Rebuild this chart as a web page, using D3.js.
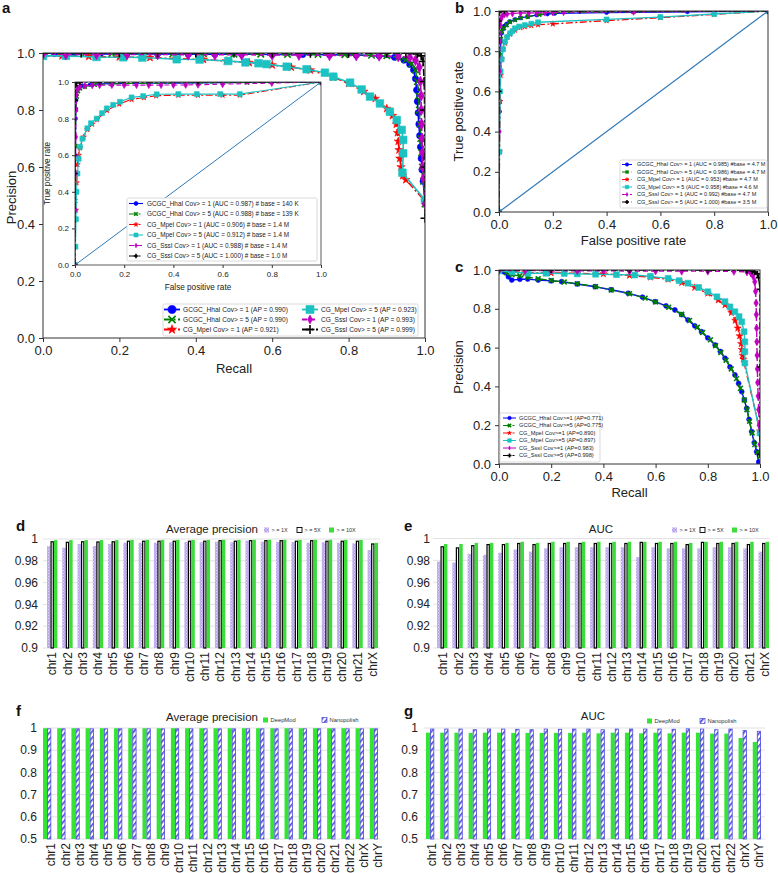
<!DOCTYPE html>
<html><head><meta charset="utf-8">
<script src="https://cdn.jsdelivr.net/npm/d3@7"></script>
<style>body{margin:0;background:#fff;} text{font-family:"Liberation Sans",Arial,Helvetica,sans-serif;}</style>
</head><body><svg id="c" width="778" height="873"></svg>
<script>
// ---------------- DATA ----------------
const seriesKeys = ['GCGC_HhaI Cov> = 1','GCGC_HhaI Cov> = 5','CG_MpeI Cov> = 1','CG_MpeI Cov> = 5','CG_SssI Cov> = 1','CG_SssI Cov> = 5'];
const axisTicks = [0,0.2,0.4,0.6,0.8,1.0];

// panel a main: precision-recall [recall, precision]
const aPR_Hha1 = [[0,1],[0.03,0.998],[0.08,0.998],[0.15,0.997],[0.22,0.997],[0.3,0.997],[0.38,0.996],[0.45,0.996],[0.52,0.996],[0.6,0.995],[0.68,0.995],[0.75,0.994],[0.82,0.993],[0.88,0.99],[0.92,0.985],[0.945,0.975],[0.96,0.96],[0.97,0.94],[0.975,0.91],[0.978,0.87],[0.98,0.83],[0.982,0.79],[0.984,0.75],[0.986,0.71],[0.988,0.67],[0.99,0.63],[0.992,0.59],[0.995,0.55],[1.0,0.48]];
const aPR_Hha5 = [[0,1],[0.05,0.999],[0.11,0.998],[0.18,0.998],[0.26,0.997],[0.34,0.997],[0.42,0.997],[0.5,0.996],[0.57,0.996],[0.64,0.995],[0.72,0.995],[0.79,0.994],[0.86,0.992],[0.9,0.99],[0.93,0.985],[0.95,0.976],[0.965,0.962],[0.975,0.94],[0.98,0.9],[0.983,0.85],[0.985,0.8],[0.987,0.75],[0.989,0.7],[0.991,0.65],[0.993,0.6],[0.996,0.55],[1.0,0.47]];
const aPR_Mpe1 = [[0,0.99],[0.05,0.99],[0.12,0.988],[0.2,0.986],[0.28,0.984],[0.35,0.98],[0.42,0.977],[0.48,0.972],[0.54,0.966],[0.6,0.958],[0.65,0.95],[0.7,0.94],[0.76,0.915],[0.8,0.893],[0.84,0.865],[0.87,0.84],[0.9,0.805],[0.915,0.78],[0.925,0.75],[0.928,0.72],[0.93,0.69],[0.932,0.66],[0.934,0.63],[0.937,0.6],[0.942,0.57],[0.95,0.555],[1.0,0.48]];
const aPR_Mpe5 = [[0,0.99],[0.06,0.99],[0.14,0.986],[0.21,0.985],[0.26,0.984],[0.35,0.978],[0.41,0.977],[0.485,0.972],[0.53,0.967],[0.564,0.964],[0.585,0.961],[0.638,0.952],[0.69,0.943],[0.738,0.931],[0.76,0.917],[0.804,0.896],[0.834,0.872],[0.856,0.847],[0.882,0.823],[0.908,0.794],[0.926,0.765],[0.939,0.73],[0.943,0.695],[0.943,0.648],[0.941,0.58],[1.0,0.484]];
const aPR_Sss1 = [[0,0.997],[0.06,0.995],[0.14,0.996],[0.22,0.995],[0.3,0.995],[0.38,0.994],[0.45,0.994],[0.52,0.994],[0.6,0.993],[0.67,0.993],[0.75,0.992],[0.82,0.991],[0.88,0.99],[0.93,0.988],[0.96,0.985],[0.975,0.975],[0.985,0.95],[0.988,0.9],[0.99,0.85],[0.99,0.8],[0.991,0.75],[0.992,0.7],[0.993,0.65],[0.994,0.6],[0.996,0.56],[1.0,0.47]];
const aPR_Sss5 = [[0,1],[0.1,1],[0.2,1],[0.3,1],[0.4,1],[0.5,1],[0.6,1],[0.7,0.999],[0.8,0.999],[0.9,0.999],[0.95,0.999],[0.98,0.997],[0.99,0.99],[0.995,0.97],[0.998,0.9],[0.999,0.8],[1.0,0.6],[1.0,0.42]];

// panel a inset: ROC [fpr, tpr]
const aROC_Hha1 = [[0,0],[0.001,0.3],[0.002,0.6],[0.003,0.8],[0.005,0.9],[0.008,0.95],[0.015,0.97],[0.03,0.98],[0.06,0.985],[0.1,0.99],[0.2,0.992],[0.3,0.993],[0.4,0.994],[0.5,0.995],[0.6,0.996],[0.8,0.998],[1,1]];
const aROC_Hha5 = [[0,0],[0.001,0.35],[0.002,0.65],[0.004,0.85],[0.007,0.92],[0.012,0.95],[0.02,0.965],[0.04,0.975],[0.08,0.985],[0.15,0.99],[0.3,0.993],[0.5,0.995],[0.7,0.997],[1,1]];
const aROC_Mpe1 = [[0,0],[0.003,0.3],[0.006,0.45],[0.01,0.55],[0.015,0.6],[0.02,0.64],[0.035,0.7],[0.05,0.74],[0.07,0.77],[0.09,0.795],[0.13,0.845],[0.18,0.88],[0.23,0.905],[0.28,0.915],[0.33,0.925],[0.42,0.928],[0.5,0.928],[0.6,0.928],[0.67,0.928],[1,1]];
const aROC_Mpe5 = [[0,0],[0.002,0.1],[0.004,0.25],[0.006,0.4],[0.01,0.5],[0.015,0.58],[0.02,0.646],[0.03,0.69],[0.05,0.747],[0.065,0.775],[0.088,0.8],[0.11,0.83],[0.129,0.856],[0.155,0.875],[0.183,0.892],[0.23,0.916],[0.277,0.923],[0.332,0.933],[0.42,0.934],[0.495,0.934],[0.59,0.934],[0.67,0.934],[1,1]];
const aROC_Sss1 = [[0,0],[0.001,0.3],[0.002,0.5],[0.003,0.7],[0.004,0.85],[0.006,0.93],[0.01,0.96],[0.02,0.975],[0.04,0.98],[0.07,0.982],[0.1,0.982],[0.15,0.983],[0.2,0.983],[0.25,0.983],[0.3,0.983],[0.35,0.983],[0.4,0.984],[0.45,0.984],[0.5,0.985],[0.6,0.988],[0.8,0.994],[1,1]];
const aROC_Sss5 = [[0,0],[0.0005,0.5],[0.001,0.9],[0.002,0.98],[0.005,0.995],[0.02,0.998],[0.1,0.999],[0.5,1],[1,1]];

// panel b: ROC
const bROC_Hha1 = [[0,0],[0.002,0.5],[0.004,0.75],[0.007,0.85],[0.01,0.89],[0.015,0.91],[0.02,0.925],[0.028,0.935],[0.04,0.948],[0.06,0.958],[0.08,0.966],[0.107,0.972],[0.14,0.98],[0.18,0.985],[0.207,0.988],[0.4,0.992],[0.7,0.996],[1,1]];
const bROC_Hha5 = [[0,0],[0.002,0.55],[0.004,0.78],[0.007,0.86],[0.01,0.897],[0.018,0.915],[0.028,0.93],[0.04,0.945],[0.059,0.955],[0.08,0.965],[0.107,0.972],[0.15,0.982],[0.207,0.993],[0.5,0.996],[1,1]];
const bROC_Mpe1 = [[0,0],[0.002,0.3],[0.004,0.55],[0.006,0.68],[0.01,0.76],[0.015,0.81],[0.022,0.84],[0.03,0.87],[0.041,0.885],[0.059,0.905],[0.08,0.918],[0.096,0.922],[0.12,0.928],[0.145,0.932],[0.2,0.936],[0.4,0.952],[0.6,0.967],[0.8,0.983],[1,1]];
const bROC_Mpe5 = [[0,0],[0.002,0.3],[0.004,0.6],[0.006,0.7],[0.01,0.76],[0.015,0.81],[0.022,0.847],[0.03,0.87],[0.041,0.889],[0.05,0.9],[0.059,0.914],[0.075,0.923],[0.096,0.93],[0.12,0.937],[0.145,0.944],[0.4,0.958],[0.6,0.97],[0.8,0.985],[1,1]];
const bROC_Sss1 = [[0,0],[0.001,0.4],[0.002,0.7],[0.003,0.85],[0.005,0.93],[0.008,0.96],[0.012,0.975],[0.02,0.982],[0.03,0.985],[0.05,0.988],[0.08,0.99],[0.11,0.99],[0.14,0.991],[0.17,0.992],[0.2,0.993],[0.24,0.994],[0.5,0.996],[1,1]];
const bROC_Sss5 = [[0,0],[0.0005,0.6],[0.001,0.95],[0.002,0.995],[0.02,0.999],[0.3,1],[1,1]];

// panel c: precision-recall
const cPR_Hha1 = [[0,1],[0.02,0.99],[0.036,0.965],[0.049,0.948],[0.08,0.952],[0.11,0.953],[0.15,0.948],[0.2,0.944],[0.24,0.94],[0.3,0.928],[0.368,0.914],[0.43,0.898],[0.495,0.88],[0.55,0.86],[0.598,0.837],[0.64,0.815],[0.674,0.794],[0.7,0.77],[0.724,0.742],[0.75,0.712],[0.776,0.682],[0.8,0.65],[0.828,0.613],[0.848,0.58],[0.866,0.545],[0.885,0.5],[0.904,0.459],[0.918,0.415],[0.93,0.373],[0.94,0.33],[0.949,0.287],[0.958,0.23],[0.968,0.167],[0.978,0.11],[0.987,0.063],[0.995,0.01]];
const cPR_Hha5 = [[0,1],[0.03,0.985],[0.05,0.975],[0.08,0.97],[0.11,0.962],[0.15,0.955],[0.2,0.946],[0.25,0.938],[0.3,0.929],[0.37,0.914],[0.43,0.897],[0.5,0.878],[0.56,0.855],[0.6,0.835],[0.65,0.808],[0.7,0.772],[0.73,0.74],[0.76,0.705],[0.78,0.678],[0.81,0.64],[0.83,0.61],[0.85,0.575],[0.87,0.535],[0.89,0.49],[0.91,0.44],[0.925,0.39],[0.94,0.33],[0.95,0.28],[0.96,0.22],[0.97,0.16],[0.98,0.1],[0.99,0.06],[1.0,0.04]];
const cPR_Mpe1 = [[0,1],[0.1,0.985],[0.2,0.985],[0.3,0.983],[0.4,0.98],[0.5,0.972],[0.58,0.963],[0.648,0.952],[0.7,0.935],[0.75,0.91],[0.8,0.88],[0.84,0.845],[0.866,0.82],[0.89,0.78],[0.905,0.74],[0.915,0.7],[0.922,0.66],[0.928,0.62],[0.93,0.59],[0.933,0.56],[0.936,0.54],[1.0,0.17]];
const cPR_Mpe5 = [[0,0.995],[0.05,0.99],[0.11,0.983],[0.18,0.983],[0.25,0.982],[0.3,0.98],[0.37,0.978],[0.45,0.976],[0.52,0.974],[0.58,0.967],[0.648,0.957],[0.69,0.945],[0.724,0.932],[0.765,0.91],[0.8,0.888],[0.835,0.862],[0.866,0.837],[0.885,0.81],[0.904,0.785],[0.92,0.76],[0.93,0.733],[0.939,0.682],[0.942,0.63],[0.942,0.579],[0.942,0.52],[1.0,0.16]];
const cPR_Sss1 = [[0,0.998],[0.1,0.997],[0.2,0.997],[0.3,0.996],[0.4,0.996],[0.5,0.995],[0.6,0.995],[0.7,0.994],[0.8,0.994],[0.9,0.993],[0.95,0.99],[0.965,0.985],[0.973,0.97],[0.98,0.94],[0.983,0.89],[0.985,0.83],[0.986,0.77],[0.987,0.7],[0.988,0.63],[0.989,0.56],[0.99,0.49],[0.991,0.42],[0.993,0.35],[0.995,0.28],[0.997,0.2],[1.0,0.1]];
const cPR_Sss5 = [[0,1],[0.2,1],[0.5,1],[0.8,0.999],[0.95,0.998],[0.97,0.995],[0.98,0.99],[0.99,0.98],[0.995,0.96],[1.0,0.9],[1.0,0.5],[1.0,0.05]];

// legend texts
const aLegendPR = ['GCGC_HhaI Cov> = 1 (AP = 0.990)','GCGC_HhaI Cov> = 5 (AP = 0.990)','CG_MpeI Cov> = 1 (AP = 0.921)','CG_MpeI Cov> = 5 (AP = 0.923)','CG_SssI Cov> = 1 (AP = 0.993)','CG_SssI Cov> = 5 (AP = 0.999)'];
const aLegendROC = ['GCGC_HhaI Cov> = 1 (AUC = 0.987) # base = 140 K','GCGC_HhaI Cov> = 5 (AUC = 0.988) # base = 139 K','CG_MpeI Cov> = 1 (AUC = 0.906) # base = 1.4 M','CG_MpeI Cov> = 5 (AUC = 0.912) # base = 1.4 M','CG_SssI Cov> = 1 (AUC = 0.988) # base = 1.4 M','CG_SssI Cov> = 5 (AUC = 1.000) # base = 1.0 M'];
const bLegend = ['GCGC_HhaI Cov> = 1 (AUC = 0.985) #base = 4.7 M','GCGC_HhaI Cov> = 5 (AUC = 0.986) #base = 4.7 M','CG_MpeI Cov> = 1 (AUC = 0.953) #base = 4.7 M','CG_MpeI Cov> = 5 (AUC = 0.958) #base = 4.6 M','CG_SssI Cov> = 1 (AUC = 0.992) #base = 4.7 M','CG_SssI Cov> = 5 (AUC = 1.000) #base = 3.5 M'];
const cLegend = ['GCGC_HhaI Cov>=1 (AP=0.771)','GCGC_HhaI Cov>=5 (AP=0.775)','CG_MpeI Cov>=1 (AP=0.890)','CG_MpeI Cov>=5 (AP=0.897)','CG_SssI Cov>=1 (AP=0.983)','CG_SssI Cov>=5 (AP=0.998)'];

// bar panels
const chrD = ['chr1','chr2','chr3','chr4','chr5','chr6','chr7','chr8','chr9','chr10','chr11','chr12','chr13','chr14','chr15','chr16','chr17','chr18','chr19','chr20','chr21','chrX'];
const apCov1  = [0.9935,0.992,0.9954,0.9935,0.9954,0.9966,0.9966,0.9966,0.997,0.9972,0.997,0.9975,0.997,0.9985,0.9975,0.9972,0.9972,0.9966,0.997,0.9966,0.996,0.9898];
const apCov5  = [0.998,0.9975,0.998,0.9978,0.998,0.9985,0.9985,0.9985,0.9985,0.9985,0.9985,0.999,0.9985,0.999,0.999,0.999,0.9985,0.999,0.9985,0.9985,0.9985,0.996];
const apCov10 = [0.999,0.999,0.999,0.999,0.999,0.9992,0.9992,0.9992,0.9992,0.9992,0.9992,0.9993,0.9992,0.9993,0.9993,0.9993,0.9992,0.9993,0.9993,0.9992,0.9992,0.9965];
const aucCov1  = [0.979,0.978,0.986,0.985,0.987,0.99,0.988,0.991,0.992,0.992,0.992,0.992,0.992,0.983,0.992,0.991,0.991,0.991,0.992,0.992,0.991,0.988];
const aucCov5  = [0.993,0.992,0.994,0.995,0.995,0.996,0.995,0.996,0.996,0.996,0.996,0.996,0.996,0.997,0.996,0.996,0.995,0.997,0.996,0.996,0.995,0.996];
const aucCov10 = [0.995,0.995,0.996,0.996,0.996,0.997,0.996,0.997,0.997,0.997,0.997,0.997,0.997,0.997,0.997,0.997,0.996,0.997,0.997,0.997,0.997,0.997];
const chrF = ['chr1','chr2','chr3','chr4','chr5','chr6','chr7','chr8','chr9','chr10','chr11','chr12','chr13','chr14','chr15','chr16','chr17','chr18','chr19','chr20','chr21','chr22','chrX','chrY'];
const apDeepMod    = [0.999,0.999,0.999,0.999,0.999,0.999,0.999,0.999,0.999,0.999,0.999,0.999,0.999,0.999,0.999,0.999,0.999,0.999,0.999,0.999,0.999,0.999,0.999,0.999];
const apNanopolish = [0.998,0.998,0.998,0.998,0.998,0.998,0.998,0.998,0.998,0.998,0.998,0.998,0.998,0.998,0.998,0.998,0.998,0.998,0.998,0.998,0.998,0.998,0.998,0.998];
const aucDeepMod    = [0.979,0.979,0.979,0.978,0.979,0.979,0.978,0.978,0.978,0.978,0.978,0.979,0.976,0.979,0.979,0.976,0.979,0.976,0.979,0.979,0.975,0.975,0.955,0.937];
const aucNanopolish = [0.997,0.997,0.997,0.994,0.997,0.997,0.996,0.994,0.997,0.996,0.997,0.997,0.994,0.997,0.997,0.997,0.997,0.996,0.998,0.997,0.994,0.997,0.99,0.987];
const ticksDE = [0.9,0.92,0.94,0.96,0.98,1];
const tickLabelsDE = ['0.9','0.92','0.94','0.96','0.98','1'];
const ticksFG = [0.5,0.6,0.7,0.8,0.9,1];
const tickLabelsFG = ['0.5','0.6','0.7','0.8','0.9','1'];
const covLegend = ['> = 1X','> = 5X','> = 10X'];
const toolLegend = ['DeepMod','Nanopolish'];

// ---------------- STYLE ----------------
const sColors = ['#0000ff','#007f00','#ff0000','#1cc2c2','#c000c0','#000000'];
const sMarkers = ['o','x','*','s','d','+'];
const sDash = [null,'7,2.5,2,2.5','7,2.5,2,2.5',null,'5,3','7,2.5,2,2.5'];

const svg = d3.select('#c');
const defs = svg.append('defs');
const p1 = defs.append('pattern').attr('id','hatchPurple').attr('patternUnits','userSpaceOnUse').attr('width',3).attr('height',3);
p1.append('rect').attr('width',3).attr('height',3).attr('fill','#b9a6ec');
p1.append('rect').attr('width',1).attr('height',1).attr('fill','#e2d9fa');
p1.append('rect').attr('x',1.5).attr('y',1.5).attr('width',1).attr('height',1).attr('fill','#e2d9fa');
const p2 = defs.append('pattern').attr('id','hatchBlue').attr('patternUnits','userSpaceOnUse').attr('width',4).attr('height',4).attr('patternTransform','rotate(40)');
p2.append('rect').attr('width',4).attr('height',4).attr('fill','#ffffff');
p2.append('rect').attr('width',1.6).attr('height',4).attr('fill','#4a46dc');

function symPath(t, s){
  const h = s/2;
  switch(t){
    case 'o': return d3.symbol(d3.symbolCircle, Math.PI*h*h*0.8)();
    case 's': return d3.symbol(d3.symbolSquare, s*s*0.8)();
    case '*': return d3.symbol(d3.symbolStar, s*s*0.5)();
    case 'd': return `M0,${-h}L${h*0.55},0L0,${h}L${-h*0.55},0Z`;
    case 'x': return `M${-h*0.8},${-h*0.8}L${h*0.8},${h*0.8}M${-h*0.8},${h*0.8}L${h*0.8},${-h*0.8}`;
    case '+': return `M${-h},0L${h},0M0,${-h}L0,${h}`;
  }
}
function drawMarker(g, t, x, y, s, color){
  const stroked = (t==='x'||t==='+');
  g.append('path').attr('d', symPath(t,s)).attr('transform',`translate(${x},${y})`)
    .attr('fill', stroked?'none':color).attr('stroke', color).attr('stroke-width', stroked?1.6:0.6);
}

let clipId = 0;
function linePanel(o){
  const x = d3.scaleLinear().domain([0,1]).range([o.x0,o.x1]);
  const y = d3.scaleLinear().domain([0,1]).range([o.yb,o.yt]);
  const g = svg.append('g');
  if(o.bg) g.append('rect').attr('x',o.x0).attr('y',o.yt).attr('width',o.x1-o.x0).attr('height',o.yb-o.yt).attr('fill','#fff');
  const id = 'clip'+(clipId++);
  defs.append('clipPath').attr('id',id).append('rect').attr('x',o.x0).attr('y',o.yt).attr('width',o.x1-o.x0).attr('height',o.yb-o.yt);
  const cg = g.append('g').attr('clip-path',`url(#${id})`);
  const line = d3.line().x(d=>x(d[0])).y(d=>y(d[1]));
  o.curves.forEach((c,i)=>{
    cg.append('path').attr('d', line(c)).attr('fill','none').attr('stroke',sColors[i])
      .attr('stroke-width',o.lw).attr('stroke-dasharray',sDash[i]);
    c.forEach(p=>drawMarker(cg, sMarkers[i], x(p[0]), y(p[1]), o.ms[i], sColors[i]));
  });
  if(o.diag) cg.append('path').attr('d', line([[0,0],[1,1]])).attr('stroke','#2f7ab8').attr('stroke-width',o.diagW||1).attr('fill','none');
  g.append('rect').attr('x',o.x0).attr('y',o.yt).attr('width',o.x1-o.x0).attr('height',o.yb-o.yt).attr('fill','none').attr('stroke','#333').attr('stroke-width',o.fw||1);
  const fmt = d3.format('.1f');
  const ax = g.append('g').attr('transform',`translate(0,${o.yb})`).call(d3.axisBottom(x).tickValues(axisTicks).tickFormat(fmt).tickSize(o.ts).tickPadding(o.tp));
  const ay = g.append('g').attr('transform',`translate(${o.x0},0)`).call(d3.axisLeft(y).tickValues(axisTicks).tickFormat(fmt).tickSize(o.ts).tickPadding(o.tp));
  [ax,ay].forEach(a=>{a.select('.domain').remove(); a.selectAll('line').attr('stroke','#333');
    a.selectAll('text').attr('font-size',o.fs).attr('fill','#222').style('font-family','"Liberation Sans",Arial,sans-serif');});
  g.append('text').attr('x',(o.x0+o.x1)/2+(o.xlOff||0)).attr('y',o.xlY).attr('text-anchor','middle').attr('font-size',o.lfs).attr('fill','#222').text(o.xlabel);
  g.append('text').attr('transform',`translate(${o.ylX},${(o.yt+o.yb)/2+(o.ylOff||0)}) rotate(-90)`).attr('text-anchor','middle').attr('font-size',o.lfs).attr('fill','#222').text(o.ylabel);
  return {x,y,g};
}

function legendBox(o){
  const g = svg.append('g');
  g.append('rect').attr('x',o.bx).attr('y',o.by).attr('width',o.bw).attr('height',o.bh).attr('rx',1.5)
    .attr('fill','#fff').attr('fill-opacity',0.9).attr('stroke','#cfcfcf').attr('stroke-width',0.8);
  o.items.forEach((t,i)=>{
    const col = o.cols ? Math.floor(i/o.rows.length) : 0;
    const r = o.cols ? i % o.rows.length : i;
    const lx = o.lx[col], yy = o.rows[r];
    g.append('line').attr('x1',lx).attr('x2',lx+o.ll).attr('y1',yy).attr('y2',yy).attr('stroke',sColors[i]).attr('stroke-width',o.lw).attr('stroke-dasharray',sDash[i]);
    drawMarker(g, sMarkers[i], lx+o.ll/2, yy, o.ms*(i===2?0.8:1), sColors[i]);
    g.append('text').attr('x',lx+o.ll+o.gap).attr('y',yy).attr('dy','0.35em').attr('font-size',o.fs).attr('fill','#222').text(t);
  });
}

// ---------- Panel a ----------
linePanel({x0:43,x1:425,yt:53,yb:338,curves:[aPR_Hha1,aPR_Hha5,aPR_Mpe1,aPR_Mpe5,aPR_Sss1,aPR_Sss5],
  lw:1.6, ms:[7,8,6.5,8.5,11,9], ts:4, tp:4, fs:13, lfs:13, xlabel:'Recall', ylabel:'Precision', xlY:373, ylX:16, ylOff:2});
linePanel({x0:75,x1:321,yt:82,yb:265,bg:true,curves:[aROC_Hha1,aROC_Hha5,aROC_Mpe1,aROC_Mpe5,aROC_Sss1,aROC_Sss5],
  lw:1.1, ms:[4,5,4.5,5.5,7,5], ts:3, tp:3, fs:8, lfs:8.2, xlabel:'False positive rate', ylabel:'True positive rate', xlY:290, ylX:50, diag:true, diagW:1, fw:0.8});
legendBox({bx:127,by:198,bw:190,bh:63,items:aLegendROC,rows:[203.5,214,224.5,235,245.5,256],lx:[129],ll:14,gap:4,fs:6.4,ms:4.5,lw:1.1});
legendBox({bx:163,by:304,bw:255,bh:32,items:aLegendPR,cols:2,rows:[309.5,319.5,329.5],lx:[164,302],ll:16,gap:3,fs:6.6,ms:9,lw:1.8});

// ---------- Panel b ----------
linePanel({x0:499,x1:768,yt:11,yb:212,curves:[bROC_Hha1,bROC_Hha5,bROC_Mpe1,bROC_Mpe5,bROC_Sss1,bROC_Sss5],
  lw:1.3, ms:[4.5,5,4.5,5.5,7,5], ts:4, tp:4, fs:13, lfs:13, xlabel:'False positive rate', ylabel:'True positive rate', xlY:245, ylX:463, diag:true, diagW:1.1});
legendBox({bx:620,by:160,bw:147,bh:48,items:bLegend,rows:[164.5,172,179.5,187,194.5,202],lx:[622],ll:10,gap:5,fs:5.5,ms:3.8,lw:1});

// ---------- Panel c ----------
linePanel({x0:499,x1:760,yt:270,yb:464,curves:[cPR_Hha1,cPR_Hha5,cPR_Mpe1,cPR_Mpe5,cPR_Sss1,cPR_Sss5],
  lw:1.4, ms:[5.5,6,5.5,6.5,8,6], ts:4, tp:4, fs:13, lfs:13, xlabel:'Recall', ylabel:'Precision', xlY:497, ylX:463});
legendBox({bx:500,by:413,bw:100,bh:49,items:cLegend,rows:[418,425.5,433,440.5,448,455.5],lx:[503],ll:13,gap:3,fs:5.7,ms:4,lw:1});

// panel letters
[['a',2,13],['b',455,13],['c',455,272],['d',16,531],['e',404,531],['f',16,716],['g',404,716]].forEach(l=>{
  svg.append('text').attr('x',l[1]).attr('y',l[2]).attr('font-size',15).attr('font-weight','bold').attr('fill','#111').text(l[0]);
});

// ---------- Bar panels ----------
function barPanel(o){
  const g = svg.append('g');
  const x = d3.scaleBand().domain(o.cats).range([o.bx0,o.bx1]).paddingInner(o.pad).paddingOuter(0);
  const y = d3.scaleLinear().domain(o.yDom).range([o.yb,o.yt]);
  g.selectAll(null).data(o.ticks).join('line').attr('x1',o.gx0).attr('x2',o.gx1)
    .attr('y1',d=>y(d)).attr('y2',d=>y(d)).attr('stroke','#e2e2e2').attr('stroke-width',1);
  g.selectAll(null).data(o.ticks).join('text').attr('x',o.tx).attr('y',d=>y(d)).attr('dy','0.35em')
    .attr('text-anchor','end').attr('font-size',12).attr('fill','#222').text((d,i)=>o.tickLabels[i]);
  const xs = d3.scaleBand().domain(d3.range(o.series.length)).range([0,x.bandwidth()]);
  o.series.forEach((s,si)=>{
    const sw = s.sw||0;
    g.selectAll(null).data(s.vals).join('rect')
      .attr('x',(d,i)=>x(o.cats[i])+xs(si)+sw/2)
      .attr('width', xs.bandwidth()-sw)
      .attr('y', d=>y(d)+sw/2).attr('height', d=>o.yb-y(d)-sw/2)
      .attr('fill', s.fill).attr('stroke', s.stroke||'none').attr('stroke-width', sw);
  });
  g.selectAll(null).data(o.cats).join('text')
    .attr('transform',d=>`translate(${x(d)+x.bandwidth()/2+o.lo+4.2},${o.yb+4}) rotate(-90)`)
    .attr('text-anchor','end').attr('font-size',12).attr('fill','#222').text(d=>d);
  g.append('text').attr('x',o.titleX).attr('y',o.titleY).attr('text-anchor','middle').attr('font-size',11.5).attr('fill','#222').text(o.title);
  o.legend.forEach(l=>{
    g.append('rect').attr('x',l.x).attr('y',l.y-2.5).attr('width',l.s).attr('height',l.s)
      .attr('fill',l.fill).attr('stroke',l.stroke||'none').attr('stroke-width',l.sw||0);
    g.append('text').attr('x',l.x+l.s+2.5).attr('y',l.y).attr('dy','0.35em').attr('font-size',l.fs).attr('fill','#333').text(l.text);
  });
}
const covSeries = (a,b,c)=>[
  {vals:a, fill:'url(#hatchPurple)'},
  {vals:b, fill:'#ffffff', stroke:'#000', sw:1.2},
  {vals:c, fill:'#3ddc3d'}];
barPanel({cats:chrD, bx0:47, bx1:378, pad:0.32, yDom:[0.9,1], yb:648, yt:539, gx0:43, gx1:380, tx:38,
  ticks:ticksDE, tickLabels:tickLabelsDE, series:covSeries(apCov1,apCov5,apCov10), lo:0,
  title:'Average precision', titleX:212, titleY:533,
  legend:[{x:264,y:530,s:5,fill:'url(#hatchPurple)',text:covLegend[0],fs:5.5},
          {x:297,y:530,s:5,fill:'#fff',stroke:'#000',sw:0.9,text:covLegend[1],fs:5.5},
          {x:329,y:530,s:5,fill:'#3ddc3d',text:covLegend[2],fs:5.5}]});
barPanel({cats:chrD, bx0:437, bx1:769, pad:0.32, yDom:[0.9,1], yb:648, yt:538.5, gx0:433, gx1:770, tx:430,
  ticks:ticksDE, tickLabels:tickLabelsDE, series:covSeries(aucCov1,aucCov5,aucCov10), lo:1,
  title:'AUC', titleX:601, titleY:533,
  legend:[{x:672,y:530,s:5,fill:'url(#hatchPurple)',text:covLegend[0],fs:5.5},
          {x:700,y:530,s:5,fill:'#fff',stroke:'#000',sw:0.9,text:covLegend[1],fs:5.5},
          {x:732,y:530,s:5,fill:'#3ddc3d',text:covLegend[2],fs:5.5}]});
const toolSeries = (a,b)=>[
  {vals:a, fill:'#33e533'},
  {vals:b, fill:'url(#hatchBlue)', stroke:'#4a46dc', sw:0.8}];
barPanel({cats:chrF, bx0:43, bx1:378, pad:0.42, yDom:[0.5,1], yb:839, yt:728, gx0:43, gx1:380, tx:37,
  ticks:ticksFG, tickLabels:tickLabelsFG, series:toolSeries(apDeepMod,apNanopolish), lo:4,
  title:'Average precision', titleX:212, titleY:721,
  legend:[{x:263,y:720,s:5,fill:'#33e533',text:toolLegend[0],fs:5.8},
          {x:322,y:720,s:5,fill:'url(#hatchBlue)',stroke:'#4a46dc',sw:0.7,text:toolLegend[1],fs:5.8}]});
barPanel({cats:chrF, bx0:426, bx1:761, pad:0.42, yDom:[0.5,1], yb:839, yt:728, gx0:424, gx1:765, tx:418,
  ticks:ticksFG, tickLabels:tickLabelsFG, series:toolSeries(aucDeepMod,aucNanopolish), lo:2,
  title:'AUC', titleX:593, titleY:720,
  legend:[{x:647,y:721,s:5,fill:'#33e533',text:toolLegend[0],fs:5.8},
          {x:700,y:721,s:5,fill:'url(#hatchBlue)',stroke:'#4a46dc',sw:0.7,text:toolLegend[1],fs:5.8}]});
</script></body></html>
